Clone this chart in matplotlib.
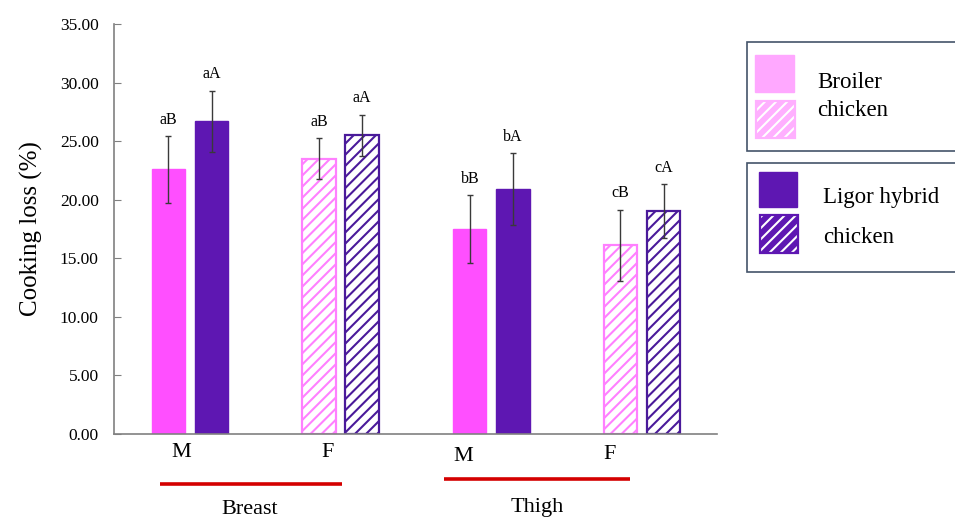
import matplotlib.pyplot as plt
from matplotlib.patches import Rectangle
import numpy as np

plt.rcParams['font.family'] = ['Liberation Serif', 'DejaVu Serif']
plt.rcParams['hatch.linewidth'] = 1.5

# cooking loss (%) for M/F breast, M/F thigh
sexes = ['M', 'F', 'M', 'F']
tissues = ['Breast', 'Thigh']
broiler_mean = [22.6, 23.5, 17.5, 16.1]
broiler_sd = [2.85, 1.75, 2.9, 3.05]
ligor_mean = [26.7, 25.5, 20.9, 19.0]
ligor_sd = [2.6, 1.75, 3.05, 2.3]
broiler_letters = ['aB', 'aB', 'bB', 'cB']
ligor_letters = ['aA', 'aA', 'bA', 'cA']
female = [False, True, False, True]

pink = '#FF4FFF'
pink_h = '#FF80FF'
purple = '#5E17B2'
purple_h = '#4A1A9A'

fig = plt.figure(figsize=(9.55, 5.2), dpi=100)
ax = fig.add_axes([0.1194, 0.1654, 0.6314, 0.7884])

x = np.arange(len(sexes))
off = 0.143
w = 0.222

for i in range(len(x)):
    for mean, sd, lab, dx, col, hcol in [
            (broiler_mean[i], broiler_sd[i], broiler_letters[i], -off, pink, pink_h),
            (ligor_mean[i], ligor_sd[i], ligor_letters[i], off, purple, purple_h)]:
        if female[i]:
            ax.bar(x[i] + dx, mean, w, facecolor='white', edgecolor=hcol,
                   hatch='///', linewidth=1.6)
        else:
            ax.bar(x[i] + dx, mean, w, color=col, edgecolor=col, linewidth=1)
        ax.errorbar(x[i] + dx, mean, yerr=sd, fmt='none', ecolor='#3a3a3a',
                    elinewidth=1, capsize=2.5, capthick=1)
        ax.annotate(lab, (x[i] + dx, mean + sd), xytext=(0, 6),
                    textcoords='offset points', ha='center', va='bottom',
                    fontsize=11.5)

ax.set_xlim(-0.504, 3.498)
ax.set_ylim(0, 35)
ax.set_yticks(np.arange(0, 35.1, 5))
ax.set_yticklabels(['%.2f' % v for v in np.arange(0, 35.1, 5)], fontsize=12.5)
ax.tick_params(axis='y', direction='in', length=5, color='#808080', pad=11)
ax.set_xticks([])
for s in ['top', 'right']:
    ax.spines[s].set_visible(False)
for s in ['left', 'bottom']:
    ax.spines[s].set_color('#808080')
    ax.spines[s].set_linewidth(1.2)

ax.set_ylabel('Cooking loss (%)', fontsize=18, labelpad=12)

# sex labels under groups
tr = ax.get_xaxis_transform()
sex_x = [-0.06, 0.916, 1.812, 2.788]
sex_y = [-0.046, -0.046, -0.055, -0.051]
for sx, sy, s in zip(sex_x, sex_y, sexes):
    ax.text(sx, sy, s, transform=tr, ha='center', va='center', fontsize=16)

# red group lines and tissue names
ax.plot([-0.199, 1.009], [-0.122, -0.122], transform=tr, color='#D40000',
        lw=2.6, clip_on=False, solid_capstyle='butt')
ax.plot([1.686, 2.92], [-0.110, -0.110], transform=tr, color='#D40000',
        lw=2.6, clip_on=False, solid_capstyle='butt')
ax.text(0.398, -0.185, tissues[0], transform=tr, ha='center', va='center', fontsize=16)
ax.text(2.303, -0.18, tissues[1], transform=tr, ha='center', va='center', fontsize=16)

# legend boxes drawn by hand
W, H = 955.0, 520.0


def frect(x0, y0, x1, y1, **kw):
    r = Rectangle((x0 / W, 1 - y1 / H), (x1 - x0) / W, (y1 - y0) / H,
                  transform=fig.transFigure, **kw)
    fig.add_artist(r)


def hatched_key(x0, y0, x1, y1, col):
    # coloured fill with white stripes, coloured border
    frect(x0, y0, x1, y1, facecolor=col, edgecolor='none')
    frect(x0, y0, x1, y1, facecolor='none', edgecolor='white', hatch='///', lw=0)
    frect(x0, y0, x1, y1, facecolor='none', edgecolor=col, lw=1.6)


frect(747, 42, 962, 151, facecolor='white', edgecolor='#44546A', lw=1.2)
frect(747, 163, 962, 272, facecolor='white', edgecolor='#44546A', lw=1.2)
frect(755, 55, 794, 92, facecolor='#FFA8FF', edgecolor='#FFA8FF', lw=1)
hatched_key(756, 101, 795, 138, '#FFB0FF')
frect(759, 172, 797, 207, facecolor=purple, edgecolor=purple, lw=1)
hatched_key(760, 215, 798, 253, purple)

fig.text(817 / W, 1 - 82 / H, 'Broiler', fontsize=16.5, va='center')
fig.text(817 / W, 1 - 110 / H, 'chicken', fontsize=16.5, va='center')
fig.text(823 / W, 1 - 198 / H, 'Ligor hybrid', fontsize=16.5, va='center')
fig.text(823 / W, 1 - 238 / H, 'chicken', fontsize=16.5, va='center')

fig.savefig('out.png', dpi=100)
